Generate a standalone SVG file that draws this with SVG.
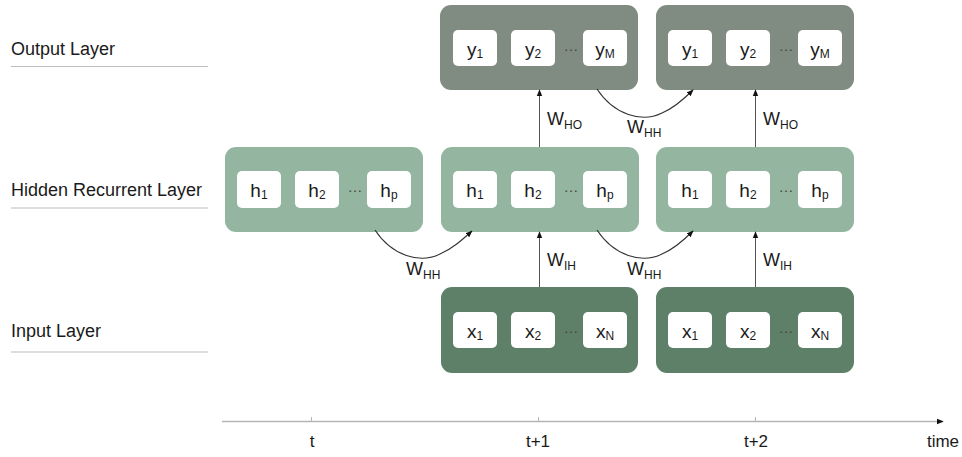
<svg xmlns="http://www.w3.org/2000/svg" width="962" height="457" viewBox="0 0 962 457">
  <style>
    text { font-family: "Liberation Sans", Arial, sans-serif; fill: #1a1a1a; }
    .layer { font-size: 18px; }
    .rule { stroke: #bdbdbd; stroke-width: 1.2; fill: none; }
    .out { fill: #808c82; }
    .hid { fill: #94b5a0; }
    .inp { fill: #5f8068; }
    .cell { fill: #ffffff; }
    .ct { font-size: 19px; text-anchor: middle; }
    .sub { font-size: 12px; }
    .dots { font-size: 15px; fill: #444; text-anchor: middle; }
    .w { font-size: 18px; }
    .ws { font-size: 12px; }
    .edge { stroke: #333; stroke-width: 1.1; fill: none; marker-end: url(#tip); }
    .vedge { stroke: #555; stroke-width: 1; fill: none; marker-end: url(#tip); }
    .axis { stroke: #b5b5b5; stroke-width: 1.3; fill: none; }
    .tick { stroke: #b5b5b5; stroke-width: 1; }
    .tl { font-size: 17px; text-anchor: middle; }
  </style>
  <defs>
    <marker id="tip" viewBox="0 0 10 10" refX="9" refY="5" markerWidth="7" markerHeight="7" markerUnits="userSpaceOnUse" orient="auto">
      <path d="M0,1 L10,5 L0,9 z" fill="#111"/>
    </marker>
    <marker id="axtip" viewBox="0 0 10 10" refX="9" refY="5" markerWidth="7" markerHeight="7" markerUnits="userSpaceOnUse" orient="auto">
      <path d="M0,1 L10,5 L0,9 z" fill="#111"/>
    </marker>
  </defs>

  <!-- layer captions -->
  <g id="captions">
    <text class="layer" x="11" y="55">Output Layer</text>
    <line class="rule" x1="11" y1="66.5" x2="208" y2="66.5"/>
    <text class="layer" x="11" y="196">Hidden Recurrent Layer</text>
    <line class="rule" x1="11" y1="208" x2="208" y2="208"/>
    <text class="layer" x="11" y="337">Input Layer</text>
    <line class="rule" x1="11" y1="352" x2="208" y2="352"/>
  </g>

  <!-- output layer -->
  <g id="out1" transform="translate(440,5)">
    <rect class="out" width="198" height="85" rx="11"/>
    <rect class="cell" x="13" y="25" width="44" height="36" rx="5"/>
    <rect class="cell" x="71" y="25" width="44" height="36" rx="5"/>
    <rect class="cell" x="143" y="25" width="44" height="36" rx="5"/>
    <text class="ct" x="35" y="51">y<tspan class="sub" dy="2">1</tspan></text>
    <text class="ct" x="93" y="51">y<tspan class="sub" dy="2">2</tspan></text>
    <text class="dots" x="131" y="46">…</text>
    <text class="ct" x="165" y="51">y<tspan class="sub" dy="2">M</tspan></text>
  </g>
  <g id="out2" transform="translate(656,5)">
    <rect class="out" width="198" height="85" rx="11"/>
    <rect class="cell" x="12" y="25" width="44" height="36" rx="5"/>
    <rect class="cell" x="70" y="25" width="44" height="36" rx="5"/>
    <rect class="cell" x="142" y="25" width="44" height="36" rx="5"/>
    <text class="ct" x="34" y="51">y<tspan class="sub" dy="2">1</tspan></text>
    <text class="ct" x="92" y="51">y<tspan class="sub" dy="2">2</tspan></text>
    <text class="dots" x="130" y="46">…</text>
    <text class="ct" x="164" y="51">y<tspan class="sub" dy="2">M</tspan></text>
  </g>

  <!-- hidden recurrent layer -->
  <g id="hid0" transform="translate(225,147)">
    <rect class="hid" width="198" height="85" rx="11"/>
    <rect class="cell" x="12" y="24" width="44" height="37" rx="5"/>
    <rect class="cell" x="70" y="24" width="44" height="37" rx="5"/>
    <rect class="cell" x="142" y="24" width="44" height="37" rx="5"/>
    <text class="ct" x="34" y="50">h<tspan class="sub" dy="2">1</tspan></text>
    <text class="ct" x="92" y="50">h<tspan class="sub" dy="2">2</tspan></text>
    <text class="dots" x="130" y="45">…</text>
    <text class="ct" x="164" y="50">h<tspan class="sub" dy="2">p</tspan></text>
  </g>
  <g id="hid1" transform="translate(441,147)">
    <rect class="hid" width="198" height="85" rx="11"/>
    <rect class="cell" x="12" y="24" width="44" height="37" rx="5"/>
    <rect class="cell" x="70" y="24" width="44" height="37" rx="5"/>
    <rect class="cell" x="142" y="24" width="44" height="37" rx="5"/>
    <text class="ct" x="34" y="50">h<tspan class="sub" dy="2">1</tspan></text>
    <text class="ct" x="92" y="50">h<tspan class="sub" dy="2">2</tspan></text>
    <text class="dots" x="130" y="45">…</text>
    <text class="ct" x="164" y="50">h<tspan class="sub" dy="2">p</tspan></text>
  </g>
  <g id="hid2" transform="translate(656,147)">
    <rect class="hid" width="198" height="85" rx="11"/>
    <rect class="cell" x="12" y="24" width="44" height="37" rx="5"/>
    <rect class="cell" x="70" y="24" width="44" height="37" rx="5"/>
    <rect class="cell" x="142" y="24" width="44" height="37" rx="5"/>
    <text class="ct" x="34" y="50">h<tspan class="sub" dy="2">1</tspan></text>
    <text class="ct" x="92" y="50">h<tspan class="sub" dy="2">2</tspan></text>
    <text class="dots" x="130" y="45">…</text>
    <text class="ct" x="164" y="50">h<tspan class="sub" dy="2">p</tspan></text>
  </g>

  <!-- input layer -->
  <g id="in1" transform="translate(441,287)">
    <rect class="inp" width="197" height="86" rx="11"/>
    <rect class="cell" x="12" y="25" width="44" height="36" rx="5"/>
    <rect class="cell" x="70" y="25" width="44" height="36" rx="5"/>
    <rect class="cell" x="142" y="25" width="44" height="36" rx="5"/>
    <text class="ct" x="34" y="51">x<tspan class="sub" dy="2">1</tspan></text>
    <text class="ct" x="92" y="51">x<tspan class="sub" dy="2">2</tspan></text>
    <text class="dots" x="130" y="46">…</text>
    <text class="ct" x="164" y="51">x<tspan class="sub" dy="2">N</tspan></text>
  </g>
  <g id="in2" transform="translate(656,287)">
    <rect class="inp" width="198" height="86" rx="11"/>
    <rect class="cell" x="12" y="25" width="44" height="36" rx="5"/>
    <rect class="cell" x="70" y="25" width="44" height="36" rx="5"/>
    <rect class="cell" x="142" y="25" width="44" height="36" rx="5"/>
    <text class="ct" x="34" y="51">x<tspan class="sub" dy="2">1</tspan></text>
    <text class="ct" x="92" y="51">x<tspan class="sub" dy="2">2</tspan></text>
    <text class="dots" x="130" y="46">…</text>
    <text class="ct" x="164" y="51">x<tspan class="sub" dy="2">N</tspan></text>
  </g>

  <!-- weight connections -->
  <g id="connectors">
    <line class="vedge" x1="539.5" y1="287" x2="539.5" y2="232"/>
    <line class="vedge" x1="755.5" y1="287" x2="755.5" y2="232"/>
    <line class="vedge" x1="539.5" y1="147" x2="539.5" y2="90"/>
    <line class="vedge" x1="755.5" y1="147" x2="755.5" y2="90"/>
    <path class="edge" d="M375,230 C392,256 420,264 440,254 C452,249 462,240 472,231"/>
    <path class="edge" d="M597,230 C614,256 642,264 662,254 C674,249 684,240 693,231"/>
    <path class="edge" d="M597,89 C614,115 642,123 662,113 C674,108 684,99 693,90"/>

    <text class="w" x="406" y="275">W<tspan class="ws" dy="4">HH</tspan></text>
    <text class="w" x="627" y="275">W<tspan class="ws" dy="4">HH</tspan></text>
    <text class="w" x="627" y="133">W<tspan class="ws" dy="4">HH</tspan></text>
    <text class="w" x="547" y="266">W<tspan class="ws" dy="4">IH</tspan></text>
    <text class="w" x="763" y="266">W<tspan class="ws" dy="4">IH</tspan></text>
    <text class="w" x="547" y="125">W<tspan class="ws" dy="4">HO</tspan></text>
    <text class="w" x="763" y="125">W<tspan class="ws" dy="4">HO</tspan></text>
  </g>

  <!-- time axis -->
  <g id="time-axis">
    <line class="axis" x1="222" y1="421.5" x2="943" y2="421.5" marker-end="url(#axtip)"/>
    <line class="tick" x1="311.5" y1="417" x2="311.5" y2="421"/>
    <line class="tick" x1="538.5" y1="417" x2="538.5" y2="421"/>
    <line class="tick" x1="755.5" y1="417" x2="755.5" y2="421"/>
    <text class="tl" x="312" y="447">t</text>
    <text class="tl" x="538" y="447">t+1</text>
    <text class="tl" x="756" y="447">t+2</text>
    <text class="tl" x="943" y="447">time</text>
  </g>
</svg>
